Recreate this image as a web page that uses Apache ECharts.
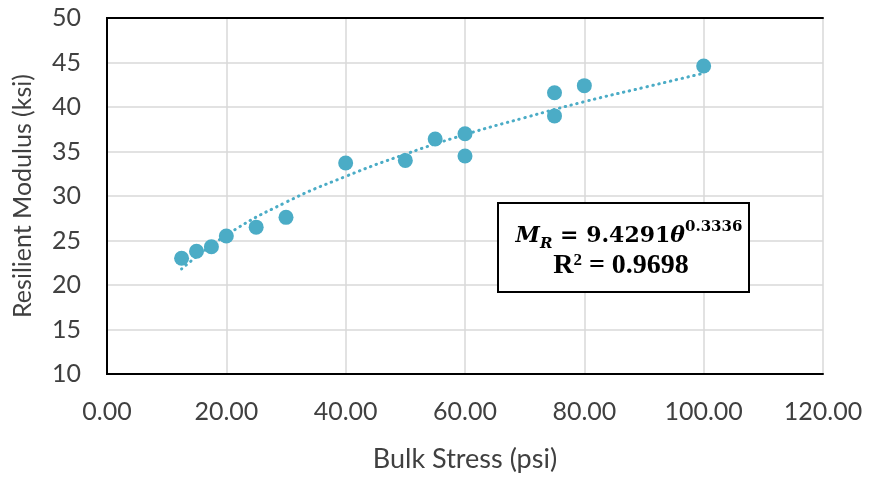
<!DOCTYPE html>
<html>
<head>
<meta charset="utf-8">
<script src="https://cdn.jsdelivr.net/npm/echarts@6/dist/echarts.min.js"></script>
<style>
    html, body { margin: 0; padding: 0; background: #fff; }
    #chart { width: 870px; height: 478px; }
</style>
</head>
<body>
<div id="chart"></div>
<script>
    // measured points: bulk stress (psi) vs resilient modulus (ksi)
    var bulkStress = [12.5, 15, 17.5, 20, 25, 30, 40, 50, 55, 60, 60, 75, 75, 80, 100];
    var modulus = [23.0, 23.8, 24.3, 25.5, 26.5, 27.6, 33.7, 34.0, 36.4, 37.0, 34.5, 41.6, 39.0, 42.4, 44.6];

    // power trendline
    var trendX = [12.5, 20, 30, 40, 50, 60, 70, 80, 90, 100];
    var trendY = [21.8, 25.6, 29.3, 32.2, 34.7, 36.9, 38.8, 40.6, 42.2, 43.8];

    var xTicks = { min: 0, max: 120, step: 20 };
    var yTicks = { min: 10, max: 50, step: 5 };

    var pts = bulkStress.map(function (x, i) { return [x, modulus[i]]; });
    var trend = trendX.map(function (x, i) { return [x, trendY[i]]; });

    var myChart = echarts.init(document.getElementById('chart'));
    var font = 'Lato';
    var txt = '#404040';
    var frame = { show: true, lineStyle: { color: '#000', width: 2 } };
    var option = {
        animation: false,
        grid: { left: 107, right: 47, top: 18, bottom: 100 },
        xAxis: [
            {
                type: 'value',
                min: xTicks.min, max: xTicks.max, interval: xTicks.step,
                name: 'Bulk Stress (psi)',
                nameLocation: 'middle',
                nameGap: 72,
                nameTextStyle: { fontFamily: font, fontSize: 27, color: txt },
                axisLine: frame,
                axisTick: { show: false },
                axisLabel: {
                    margin: 25, fontFamily: font, fontSize: 25, color: txt,
                    formatter: function (v) { return v.toFixed(2); }
                },
                splitLine: { lineStyle: { color: '#d9d9d9', width: 1.5 } }
            },
            {
                type: 'value', position: 'top',
                min: xTicks.min, max: xTicks.max,
                axisLine: frame, axisTick: { show: false },
                axisLabel: { show: false }, splitLine: { show: false }
            }
        ],
        yAxis: [
            {
                type: 'value',
                min: yTicks.min, max: yTicks.max, interval: yTicks.step,
                name: 'Resilient Modulus (ksi)',
                nameLocation: 'middle',
                nameGap: 72,
                nameTextStyle: { fontFamily: font, fontSize: 25, color: txt },
                axisLine: frame,
                axisTick: { show: false },
                axisLabel: { margin: 26, fontFamily: font, fontSize: 25, color: txt },
                splitLine: { lineStyle: { color: '#d9d9d9', width: 1.5 } }
            },
            {
                type: 'value', position: 'right',
                min: yTicks.min, max: yTicks.max,
                axisLine: frame, axisTick: { show: false },
                axisLabel: { show: false }, splitLine: { show: false }
            }
        ],
        series: [
            {
                name: 'trend',
                type: 'line',
                data: trend,
                smooth: true,
                showSymbol: false,
                lineStyle: { color: '#4bacc6', width: 3, type: [0.5, 5.5], cap: 'round' },
                z: 2
            },
            {
                name: 'data',
                type: 'scatter',
                data: pts,
                symbolSize: 15,
                itemStyle: { color: '#4bacc6', opacity: 1 },
                z: 3
            }
        ],
        graphic: [
            {
                type: 'rect',
                shape: { x: 498, y: 203, width: 251, height: 89 },
                style: { fill: '#fff', stroke: '#000', lineWidth: 2 },
                z: 10
            },
            {
                type: 'text',
                x: 629, y: 236,
                style: {
                    text: '{mi|M}{sub|R}{eq| = 9.4291}{mi|θ}{sup|0.3336}',
                    align: 'center', verticalAlign: 'middle',
                    rich: {
                        mi: { fontFamily: 'DejaVu Serif', fontStyle: 'italic', fontWeight: 'bold', fontSize: 22, fill: '#000', lineHeight: 32 },
                        eq: { fontFamily: 'DejaVu Serif', fontWeight: 'bold', fontSize: 22, fill: '#000', lineHeight: 32 },
                        sub: { fontFamily: 'DejaVu Serif', fontStyle: 'italic', fontWeight: 'bold', fontSize: 15, fill: '#000', verticalAlign: 'bottom', lineHeight: 32, padding: [10, 0, 0, 0] },
                        sup: { fontFamily: 'DejaVu Serif', fontWeight: 'bold', fontSize: 15, fill: '#000', verticalAlign: 'top', lineHeight: 32, padding: [0, 0, 10, 0] }
                    }
                },
                z: 11
            },
            {
                type: 'text',
                x: 621, y: 266,
                style: {
                    text: 'R{sup|2}{eq| = 0.9698}',
                    align: 'center', verticalAlign: 'middle',
                    fontFamily: 'Liberation Serif', fontWeight: 'bold', fontSize: 28, fill: '#000',
                    rich: {
                        eq: { fontFamily: 'Liberation Serif', fontWeight: 'bold', fontSize: 28, fill: '#000' },
                        sup: { fontFamily: 'Liberation Serif', fontWeight: 'bold', fontSize: 17, fill: '#000', verticalAlign: 'top', padding: [0, 0, 10, 0] }
                    }
                },
                z: 11
            }
        ]
    };
    option && myChart.setOption(option);
</script>
</body>
</html>
